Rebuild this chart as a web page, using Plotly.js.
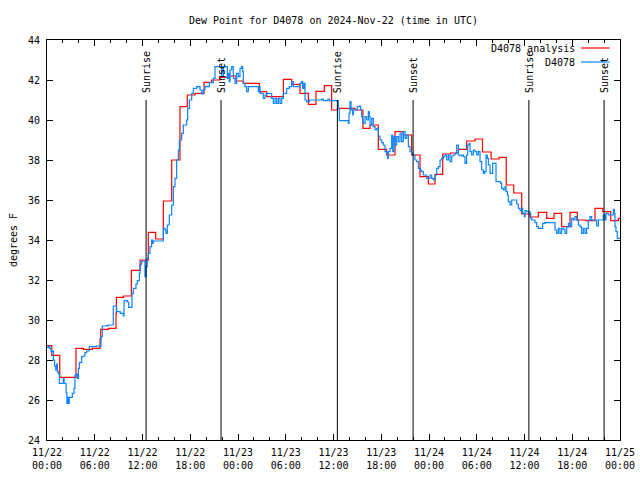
<!DOCTYPE html>
<html>
<head>
<meta charset="utf-8">
<script src="https://cdn.plot.ly/plotly-3.0.1.min.js"></script>
<style>html,body{margin:0;padding:0;background:#fff;}#chart{width:640px;height:480px;}</style>
</head>
<body>
<div id="chart"></div>
<script>
// ---- data (hours since 2024-11-22 00:00 UTC) ----
const redHours = [0,0.6,1.6,3.64,4.57,5.7,6.66,6.75,7.71,8.67,
  8.72,9.59,10.6,11.7,12.73,13.66,14.62,15.67,16.71,17.63,
  18.6,19.73,20.69,21.74,22.79,23.75,24.67,26.68,27.6,29.7,
  30.74,31.79,32.84,33.8,34.85,35.77,36.5,38.7,39.7,40.59,
  41.63,42.68,43.73,44.77,45.82,46.87,47.91,48.76,49.72,50.73,
  51.69,52.74,53.78,54.72,55.8,56.8,57.7,58.65,59.65,60.69,
  61.74,62.79,63.71,64.67,65.72,66.64,67.73,68.86,69.83,70.83,
  71.79,72];
const redValues = [28.72,28.23,27.13,28.58,28.53,28.58,29.05,29.53,29.58,30.33,
  31.13,31.2,32.48,33.0,34.38,34.05,35.95,38.0,40.67,41.25,
  41.33,41.88,42.0,42.13,42.2,41.95,41.83,41.42,41.17,42.03,
  41.78,41.33,40.78,41.43,41.72,40.5,40.58,40.5,39.58,39.75,
  38.53,38.25,39.42,39.25,38.25,37.17,36.8,37.28,38.3,38.35,
  38.53,38.95,39.05,38.4,38.05,38.13,36.75,36.35,35.3,35.15,
  35.38,35.08,35.33,34.67,35.38,35.0,34.97,35.58,35.42,34.97,
  35.08,35.08];

const blueHours = [0,0.2,0.35,0.5,0.65,0.8,0.95,1.09,1.2,1.3,
  1.42,1.55,2.05,2.15,2.4,2.5,2.6,2.7,2.8,3.18,
  3.39,3.52,3.65,3.81,3.94,4.07,4.36,4.57,4.78,4.98,
  5.32,6.24,6.66,6.79,6.95,7.5,7.71,8.33,8.75,9.2,
  9.59,9.68,10.1,10.26,10.68,10.85,11.18,11.35,11.6,11.69,
  11.85,12.0,12.31,12.45,12.6,12.73,12.94,13.15,13.28,13.36,
  14.62,14.83,14.95,15.12,15.37,15.67,15.88,16.08,16.29,16.5,
  16.63,16.92,17.13,17.55,17.68,17.89,18.18,18.39,18.81,19.23,
  19.44,19.64,19.85,20.4,20.9,21.11,21.95,22.16,22.66,22.79,
  22.91,23.0,23.21,23.41,23.62,23.83,24.04,24.25,24.46,24.59,
  24.67,24.88,25.09,25.3,26.56,26.68,26.77,27.18,27.39,27.6,
  28.23,28.44,28.65,28.86,29.07,29.28,29.49,29.7,30.12,30.45,
  30.74,30.95,31.79,32.0,32.13,32.29,32.42,32.63,33.0,34.5,
  34.7,35.3,35.5,36.61,36.73,37.87,37.95,38.07,38.2,38.28,
  38.41,38.49,38.99,39.25,39.41,39.54,39.66,39.75,39.96,40.17,
  40.38,40.5,40.59,40.8,41.0,41.22,41.43,41.63,41.84,42.05,
  42.26,42.47,42.68,42.81,42.89,43.1,43.31,43.44,43.61,43.73,
  43.94,44.15,44.36,44.57,44.78,44.99,45.2,45.41,45.61,45.82,
  46.03,46.24,46.45,46.66,46.87,47.08,47.29,47.71,48.13,48.34,
  48.55,48.76,48.97,49.18,49.39,49.6,49.81,50.01,50.22,50.43,
  50.64,50.85,51.06,51.27,51.48,51.69,51.9,52.11,52.32,52.52,
  52.73,52.86,53.03,53.15,53.36,53.57,53.78,53.99,54.2,54.41,
  54.62,54.83,55.0,55.17,55.33,55.46,55.67,56.0,56.42,57.0,
  57.13,57.34,57.55,57.68,57.85,57.97,58.18,58.39,59.02,59.23,
  59.44,59.65,59.77,59.98,60.07,60.27,60.69,60.78,60.9,61.32,
  61.53,61.74,62.28,62.58,63.83,64.04,64.25,64.46,64.67,64.88,
  65.09,65.3,65.51,65.72,65.93,66.14,66.35,66.56,66.77,66.97,
  67.18,67.39,67.6,67.81,68.02,68.23,68.44,69.07,69.28,69.9,
  70.11,70.24,70.53,71.16,71.28,71.37,71.49,71.66,72.0];
const blueValues = [28.63,28.7,28.58,28.42,28.45,28.0,27.7,27.5,27.8,27.42,
  27.3,26.83,27.08,26.83,26.37,25.83,26.13,25.83,26.13,26.33,
  26.58,27.25,27.3,27.08,27.58,27.87,28.17,28.2,28.37,28.45,
  28.67,28.7,28.67,29.17,29.7,29.72,29.75,30.7,30.42,30.33,
  30.2,30.97,30.9,30.63,31.33,31.58,31.8,31.97,32.33,32.75,
  32.92,32.95,32.17,32.67,33.1,33.33,33.67,34.0,33.83,33.95,
  34.58,34.5,34.33,34.75,35.25,35.75,36.67,37.08,38.0,38.5,
  39.0,39.33,39.75,40.0,40.58,41.0,41.33,41.58,41.67,41.5,
  41.3,41.5,41.67,41.87,42.08,42.67,42.17,42.67,42.08,42.33,
  41.92,42.5,42.67,42.08,41.83,42.33,42.17,42.58,42.67,42.42,
  41.83,41.67,41.42,41.67,41.42,41.67,41.33,41.08,41.25,41.33,
  41.08,40.83,41.08,40.83,41.08,40.83,41.08,41.33,41.58,41.67,
  41.92,41.67,41.83,41.92,41.58,41.83,41.0,40.92,41.0,41.05,
  40.97,41.05,40.97,40.58,39.97,39.83,40.33,40.92,40.5,40.58,
  40.25,40.5,40.67,40.7,40.5,40.17,39.92,39.83,40.17,40.0,
  40.42,40.17,39.75,40.08,39.67,39.5,39.58,39.2,39.0,38.87,
  38.75,38.42,38.37,38.08,38.42,38.58,39.25,38.42,39.17,38.75,
  39.17,38.92,39.33,38.92,39.42,39.08,39.25,38.67,38.42,38.33,
  38.25,38.0,37.92,37.58,37.5,37.42,37.25,37.08,37.25,37.08,
  37.0,37.25,37.58,37.67,38.0,38.08,38.17,38.25,38.0,38.25,
  37.92,38.2,38.25,38.33,38.75,38.25,38.2,38.25,38.17,37.83,
  38.25,38.75,38.83,38.42,38.25,38.5,38.42,38.25,38.42,37.92,
  37.5,37.33,37.42,38.25,38.08,37.75,37.33,37.83,36.92,36.83,
  36.58,36.5,36.67,36.42,36.25,35.92,35.75,36.0,35.8,35.58,
  35.47,35.58,35.33,35.17,35.47,35.42,35.33,35.08,35.0,34.87,
  34.67,34.58,34.83,34.87,34.5,34.33,34.58,34.33,34.58,34.53,
  34.33,34.67,34.83,34.67,35.08,35.0,35.17,35.0,34.75,34.67,
  34.33,34.58,34.33,34.58,35.0,35.17,35.0,34.7,35.0,35.25,
  35.0,35.33,35.25,35.53,35.33,34.67,34.42,34.08,34.08];

const sunEventTimes = ['2024-11-22 12:27','2024-11-22 21:52','2024-11-23 12:29','2024-11-23 22:00','2024-11-24 12:33','2024-11-24 22:00'];
const sunEventLabels = ['Sunrise','Sunset','Sunrise','Sunset','Sunrise','Sunset'];

const tickValues = ['2024-11-22 00:00','2024-11-22 06:00','2024-11-22 12:00','2024-11-22 18:00',
  '2024-11-23 00:00','2024-11-23 06:00','2024-11-23 12:00','2024-11-23 18:00',
  '2024-11-24 00:00','2024-11-24 06:00','2024-11-24 12:00','2024-11-24 18:00','2024-11-25 00:00'];
const tickLabels = ['11/22<br>00:00','11/22<br>06:00','11/22<br>12:00','11/22<br>18:00',
  '11/23<br>00:00','11/23<br>06:00','11/23<br>12:00','11/23<br>18:00',
  '11/24<br>00:00','11/24<br>06:00','11/24<br>12:00','11/24<br>18:00','11/25<br>00:00'];
const yTicks = [24,26,28,30,32,34,36,38,40,42,44];

const seriesNames = ['D4078 analysis','D4078'];
const seriesColors = ['#ff0000','#0a84ff'];

// ---- helpers ----
function hoursToDate(h){
  const d = new Date(Date.UTC(2024,10,22) + Math.round(h*3600000));
  const p = n => String(n).padStart(2,'0');
  return d.getUTCFullYear()+'-'+p(d.getUTCMonth()+1)+'-'+p(d.getUTCDate())+' '+p(d.getUTCHours())+':'+p(d.getUTCMinutes())+':'+p(d.getUTCSeconds());
}

const FONT = 'DejaVu Sans Mono, Liberation Mono, monospace';

const traces = [
  {x: redHours.map(hoursToDate), y: redValues, type:'scatter', mode:'lines', name: seriesNames[0],
   line:{shape:'hv', color: seriesColors[0], width:1.2}, showlegend:false, hoverinfo:'skip'},
  {x: blueHours.map(hoursToDate), y: blueValues, type:'scatter', mode:'lines', name: seriesNames[1],
   line:{shape:'hv', color: seriesColors[1], width:1.2}, showlegend:false, hoverinfo:'skip'}
];

const shapes = [];
const annotations = [];
sunEventTimes.forEach((t,i)=>{
  shapes.push({type:'line', xref:'x', yref:'y', x0:t, x1:t, y0:24, y1:41, line:{color:'#000', width:1}, layer:'above'});
  annotations.push({x:t, y:41.3, xref:'x', yref:'y', text: sunEventLabels[i], textangle:-90,
    showarrow:false, xanchor:'center', yanchor:'bottom', borderpad:0,
    font:{family:FONT, size:10, color:'#000'}});
});

// gnuplot-style key: text then line sample
const keyY = [0.98, 0.945];
seriesNames.forEach((n,i)=>{
  annotations.push({x:0.923, y:keyY[i], xref:'paper', yref:'paper', text:n, showarrow:false,
    xanchor:'right', yanchor:'middle', borderpad:0, font:{family:FONT, size:10, color:'#000'}});
  shapes.push({type:'line', xref:'paper', yref:'paper', x0:0.932, x1:0.982, y0:keyY[i], y1:keyY[i],
    line:{color:seriesColors[i], width:1.2}});
});

const layout = {
  width:640, height:480,
  margin:{l:47, r:20, t:40, b:40},
  paper_bgcolor:'#fff', plot_bgcolor:'#fff',
  font:{family:FONT, size:10, color:'#000'},
  title:{text:'Dew Point for D4078 on 2024-Nov-22 (time in UTC)', x:0.5, xref:'paper', y:0.958, yanchor:'middle',
    font:{family:FONT, size:10, color:'#000'}},
  xaxis:{type:'date', range:['2024-11-22 00:00','2024-11-25 00:00'],
    tickmode:'array', tickvals:tickValues, ticktext:tickLabels,
    ticks:'inside', ticklen:6, tickcolor:'#000', showline:true, linecolor:'#000', linewidth:1,
    mirror:'allticks', showgrid:false, zeroline:false, ticklabelstandoff:3,
    minor:{dtick:7200000, tick0:'2024-11-22 00:00', ticks:'inside', ticklen:3, tickcolor:'#000', showgrid:false},
    tickfont:{family:FONT, size:10, color:'#000'}, automargin:false},
  yaxis:{range:[24,44], tickmode:'array', tickvals:yTicks,
    ticks:'inside', ticklen:6, tickcolor:'#000', showline:true, linecolor:'#000', linewidth:1,
    mirror:'allticks', showgrid:false, zeroline:false, ticklabelstandoff:4,
    title:{text:'degrees F', standoff:8, font:{family:FONT, size:10, color:'#000'}},
    tickfont:{family:FONT, size:10, color:'#000'}, automargin:false},
  shapes: shapes,
  annotations: annotations,
  showlegend:false
};

Plotly.newPlot('chart', traces, layout, {staticPlot:true, displayModeBar:false});
</script>
</body>
</html>
